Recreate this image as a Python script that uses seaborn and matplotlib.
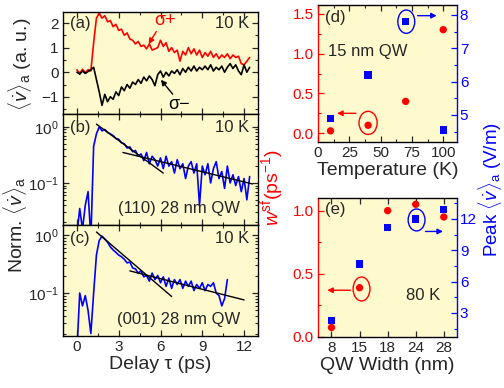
import numpy as np
import pandas as pd
import matplotlib
matplotlib.use("Agg")
import matplotlib.pyplot as plt
from matplotlib.patches import Ellipse
from matplotlib.ticker import MultipleLocator, FormatStrFormatter
import seaborn as sns

sns.set_style("ticks")
plt.rcParams['font.family'] = ['Liberation Sans', 'DejaVu Sans']
plt.rcParams['mathtext.fontset'] = 'custom'
plt.rcParams['mathtext.rm'] = 'Liberation Sans'
plt.rcParams['mathtext.it'] = 'Liberation Sans:italic'
plt.rcParams['mathtext.bf'] = 'Liberation Sans:bold'

# ---------------- data ----------------
t_step = 0.2  # ps sampling of the traces

sigma_plus = [0.1, -0.05, 0.12, -0.02, 0.1, 0.05, 1.2, 2.2, 2.4, 2.2, 2.3, 2.05, 2.1, 1.85,
              1.95, 1.7, 1.75, 1.5, 1.6, 1.35, 1.3, 1.15, 1.25, 1.05, 1.1, 0.95, 1.15, 0.9,
              0.95, 1.0, 1.3, 1.05, 1.2, 0.85, 1.0, 0.8, 0.9, 0.45, 0.85, 0.7, 1.0, 0.75, 0.95,
              0.7, 0.9, 0.6, 0.8, 0.65, 0.85, 0.6, 0.75, 0.55, 0.7, 0.6, 0.75, 0.55, 0.7, 0.6,
              0.65, 0.35, 0.3, 0.45, 0.6]
sigma_minus = [0.0, -0.08, 0.05, -0.05, 0.03, 0.1, 0.2, -0.3, -0.8, -1.35, -0.9, -1.2, -1.0,
               -1.1, -0.8, -0.95, -0.6, -0.75, -0.5, -0.65, -0.4, -0.5, -0.3, -0.45, -0.2,
               -0.35, -0.15, -0.3, -0.55, -0.1, 0.05, -0.2, 0.0, -0.15, 0.05, -0.05, 0.1,
               -0.1, 0.15, 0.0, 0.2, 0.05, 0.25, 0.05, 0.2, 0.1, 0.25, 0.1, 0.3, 0.05, 0.2,
               0.1, 0.25, 0.0, 0.2, 0.35, 0.15, 0.3, 0.05, -0.1, 0.3, 0.0, 0.2]

norm_110 = [0.012, 0.035, 0.015, 0.04, 0.07, 0.01, 0.45, 0.75, 1.0, 0.85, 0.9, 0.8, 0.75,
            0.7, 0.62, 0.6, 0.52, 0.5, 0.42, 0.44, 0.36, 0.38, 0.3, 0.33, 0.25, 0.35, 0.22,
            0.3, 0.26, 0.2, 0.28, 0.18, 0.3, 0.2, 0.24, 0.15, 0.26, 0.18, 0.22, 0.12, 0.2,
            0.24, 0.15, 0.22, 0.04, 0.2, 0.14, 0.22, 0.1, 0.18, 0.24, 0.12, 0.16, 0.08, 0.2,
            0.1, 0.14, 0.09, 0.13, 0.07, 0.12, 0.05, 0.13]
norm_001 = [0.01, 0.1, 0.06, 0.09, 0.05, 0.02, 0.1, 0.45, 0.8, 0.95, 0.85, 0.75, 0.62, 0.55,
            0.5, 0.45, 0.42, 0.38, 0.33, 0.34, 0.27, 0.26, 0.22, 0.24, 0.19, 0.2, 0.16, 0.22,
            0.17, 0.2, 0.15, 0.19, 0.13, 0.18, 0.12, 0.17, 0.14, 0.17, 0.12, 0.16, 0.13, 0.16,
            0.11, 0.14, 0.12, 0.15, 0.11, 0.14, 0.13, 0.15, 0.1, 0.09, 0.06, 0.08, 0.17]

fit110_fast_t = [1.4, 6.2]
fit110_fast_v = [1.12, 0.15]
fit110_slow_t = [3.3, 12.6]
fit110_slow_v = [0.35, 0.096]
fit001_fast_t = [1.4, 6.8]
fit001_fast_v = [1.12, 0.087]
fit001_slow_t = [3.8, 12.0]
fit001_slow_v = [0.24, 0.076]

temperature = [10, 40, 70, 100]
wsf_T = [0.03, 0.1, 0.4, 1.3]
peak_T = [4.9, 6.2, 7.8, 4.55]

qw_width = ['8', '15', '18', '24', '28']
wsf_W = [0.075, 0.39, 1.0, 1.05, 0.95]
peak_W = [2.3, 7.7, 11.2, 12.0, 12.9]

RED = '#FF0000'
BLUE = '#0000FF'
BG = '#FFFACD'
TICK = 11
LAB = 14
TXT = 12


def trace_df(vals):
    return pd.DataFrame({'t': np.round(np.arange(len(vals)) * t_step, 2), 'v': vals})


fig = plt.figure(figsize=(5.04, 3.88), dpi=100)
W, H = 504, 388


def rect(l, r, t, b):
    return [l / W, 1 - b / H, (r - l) / W, (b - t) / H]


ax_a = fig.add_axes(rect(63, 258, 12, 114))
ax_b = fig.add_axes(rect(63, 258, 114, 225))
ax_c = fig.add_axes(rect(63, 258, 225, 336))
ax_d = fig.add_axes(rect(318, 457, 5, 142))
ax_e = fig.add_axes(rect(318, 457, 198, 337))

for ax in (ax_a, ax_b, ax_c, ax_d, ax_e):
    ax.set_facecolor(BG)
    for s in ax.spines.values():
        s.set_linewidth(1.0)
        s.set_color('black')

# ---- (a) ----
sns.lineplot(data=trace_df(sigma_plus), x='t', y='v', ax=ax_a, color=RED, lw=1.2,
             estimator=None, sort=False)
sns.lineplot(data=trace_df(sigma_minus), x='t', y='v', ax=ax_a, color='black', lw=1.2,
             estimator=None, sort=False)
ax_a.set_ylim(-1.7, 2.45)
ax_a.yaxis.set_major_locator(MultipleLocator(1))
ax_a.yaxis.set_minor_locator(MultipleLocator(0.5))
ax_a.set_ylabel('')
ax_a.text(0.036, 0.89, '(a)', transform=ax_a.transAxes, fontsize=TXT, va='center')
ax_a.text(0.955, 0.89, '10 K', transform=ax_a.transAxes, fontsize=TXT, va='center', ha='right')
ax_a.text(6.3, 2.1, 'σ+', color=RED, fontsize=TXT + 1, ha='center', va='center')
ax_a.annotate('', xy=(5.05, 1.05), xytext=(5.8, 1.75),
              arrowprops=dict(arrowstyle='-|>', color=RED, lw=1.0, mutation_scale=8))
ax_a.text(7.3, -1.3, 'σ−', color='black', fontsize=TXT + 1, ha='center', va='center')
ax_a.annotate('', xy=(5.9, -0.22), xytext=(7.0, -0.98),
              arrowprops=dict(arrowstyle='-|>', color='black', lw=1.0, mutation_scale=8))
fig.text(20 / W, 1 - 64 / H, r'$\langle\dot{v}\rangle_{\rm a}$ (a. u.)', rotation=90,
         fontsize=LAB, ha='center', va='center')

# ---- (b), (c) ----
for ax, vals, ft, fv, st, sv, lab, tag in (
        (ax_b, norm_110, fit110_fast_t, fit110_fast_v, fit110_slow_t, fit110_slow_v,
         '(110) 28 nm QW', '(b)'),
        (ax_c, norm_001, fit001_fast_t, fit001_fast_v, fit001_slow_t, fit001_slow_v,
         '(001) 28 nm QW', '(c)')):
    sns.lineplot(data=trace_df(vals), x='t', y='v', ax=ax, color=BLUE, lw=1.2,
                 estimator=None, sort=False)
    sns.lineplot(x=ft, y=fv, ax=ax, color='black', lw=1.0, estimator=None, sort=False)
    sns.lineplot(x=st, y=sv, ax=ax, color='black', lw=1.0, estimator=None, sort=False)
    ax.set_yscale('log')
    ax.text(0.036, 0.875, tag, transform=ax.transAxes, fontsize=TXT, va='center')
    ax.text(0.955, 0.875, '10 K', transform=ax.transAxes, fontsize=TXT, va='center', ha='right')
    ax.text(0.91, 0.145, lab, transform=ax.transAxes, fontsize=TXT, va='center', ha='right')
    ax.set_ylabel('')
ax_b.set_ylim(10 ** -1.75, 10 ** 0.23)
ax_c.set_ylim(10 ** -1.74, 10 ** 0.17)

for ax in (ax_a, ax_b, ax_c):
    ax.set_xlim(-1, 13)
    ax.xaxis.set_major_locator(MultipleLocator(3))
    ax.xaxis.set_minor_locator(MultipleLocator(1.5))
    ax.tick_params(which='both', direction='in', top=True, right=True, labelsize=TICK, pad=3)
    ax.tick_params(which='major', length=4, width=0.9)
    ax.tick_params(which='minor', length=2.5, width=0.8)
    ax.set_xlabel('')
for ax in (ax_a, ax_b):
    ax.tick_params(labelbottom=False)
ax_c.set_xlabel('Delay τ (ps)', fontsize=LAB, labelpad=1)
fig.text(15 / W, 1 - 225 / H, r'Norm. $\langle\dot{v}\rangle_{\rm a}$', rotation=90,
         fontsize=LAB, ha='center', va='center')

# ---- (d) ----
sns.scatterplot(x=temperature, y=wsf_T, ax=ax_d, color=RED, marker='o', s=28,
                edgecolor='none', zorder=3)
ax_d2 = ax_d.twinx()
sns.scatterplot(x=temperature, y=peak_T, ax=ax_d2, color=BLUE, marker='s', s=28,
                edgecolor='none', zorder=3)
ax_d.set_xlim(0, 111)
ax_d.set_ylim(-0.11, 1.61)
ax_d2.set_ylim(4.19, 8.3)
ax_d.xaxis.set_major_locator(MultipleLocator(25))
ax_d.xaxis.set_minor_locator(MultipleLocator(12.5))
ax_d.yaxis.set_major_locator(MultipleLocator(0.5))
ax_d.yaxis.set_minor_locator(MultipleLocator(0.25))
ax_d2.yaxis.set_major_locator(MultipleLocator(1))
ax_d2.yaxis.set_minor_locator(MultipleLocator(0.5))
ax_d.set_xlabel('Temperature (K)', fontsize=LAB, labelpad=1)
ax_d.text(0.05, 0.91, '(d)', transform=ax_d.transAxes, fontsize=TXT, va='center')
ax_d.text(0.07, 0.66, '15 nm QW', transform=ax_d.transAxes, fontsize=TXT, va='center')
ax_d.add_patch(Ellipse((40, 0.13), 14.5, 0.29, fill=False, ec=RED, lw=1.0, zorder=4))
ax_d.annotate('', xy=(13, 0.25), xytext=(32.5, 0.25),
              arrowprops=dict(arrowstyle='-|>', color=RED, lw=1.0, mutation_scale=8))
ax_d2.add_patch(Ellipse((70.5, 7.8), 13.5, 0.7, fill=False, ec=BLUE, lw=1.0, zorder=4))
ax_d2.annotate('', xy=(97, 7.98), xytext=(77.3, 7.98),
               arrowprops=dict(arrowstyle='-|>', color=BLUE, lw=1.0, mutation_scale=8))

# ---- (e) ----
sns.scatterplot(x=qw_width, y=wsf_W, ax=ax_e, color=RED, marker='o', s=28,
                edgecolor='none', zorder=3)
ax_e2 = ax_e.twinx()
sns.scatterplot(x=qw_width, y=peak_W, ax=ax_e2, color=BLUE, marker='s', s=28,
                edgecolor='none', zorder=3)
ax_e.set_xlim(-0.48, 4.47)
ax_e.set_ylim(0, 1.1)
ax_e2.set_ylim(0.7, 14.0)
ax_e.yaxis.set_major_locator(MultipleLocator(0.5))
ax_e.yaxis.set_minor_locator(MultipleLocator(0.25))
ax_e2.yaxis.set_major_locator(MultipleLocator(3))
ax_e2.yaxis.set_minor_locator(MultipleLocator(1.5))
ax_e.set_xlabel('QW Width (nm)', fontsize=LAB, labelpad=1)
ax_e.text(0.05, 0.915, '(e)', transform=ax_e.transAxes, fontsize=TXT, va='center')
ax_e.text(0.63, 0.3, '80 K', transform=ax_e.transAxes, fontsize=TXT, va='center')
ax_e.add_patch(Ellipse((1.07, 0.38), 0.6, 0.19, fill=False, ec=RED, lw=1.0, zorder=4))
ax_e.annotate('', xy=(-0.25, 0.37), xytext=(0.77, 0.37),
              arrowprops=dict(arrowstyle='-|>', color=RED, lw=1.0, mutation_scale=8))
ax_e2.add_patch(Ellipse((3.03, 11.9), 0.6, 2.1, fill=False, ec=BLUE, lw=1.0, zorder=4))
ax_e2.annotate('', xy=(4.07, 10.8), xytext=(3.25, 10.8),
               arrowprops=dict(arrowstyle='-|>', color=BLUE, lw=1.0, mutation_scale=8))

for ax, ax2 in ((ax_d, ax_d2), (ax_e, ax_e2)):
    ax.spines['left'].set_color(RED)
    ax.spines['right'].set_visible(False)
    ax2.spines['left'].set_visible(False)
    ax2.spines['right'].set_color(BLUE)
    ax2.spines['right'].set_linewidth(1.0)
    ax2.spines['top'].set_visible(False)
    ax2.spines['bottom'].set_visible(False)
    ax.tick_params(which='both', direction='in', top=True, labelsize=TICK, pad=3)
    ax.tick_params(axis='y', which='both', colors=RED, labelcolor=RED)
    ax2.tick_params(which='both', direction='in', labelsize=TICK, pad=2,
                    colors=BLUE, labelcolor=BLUE)
    for a in (ax, ax2):
        a.tick_params(which='major', length=4, width=0.9)
        a.tick_params(which='minor', length=2.5, width=0.8)
        a.set_ylabel('')
    ax.yaxis.set_major_formatter(FormatStrFormatter('%.1f'))

fig.text(272 / W, 1 - 188 / H, r'$w^{\rm sf}$(ps$^{-1}$)', rotation=90, color=RED,
         fontsize=LAB, ha='center', va='center')
fig.text(490 / W, 1 - 190 / H, r'Peak $\langle\dot{v}\rangle_{\rm a}$ (V/m)', rotation=90,
         color=BLUE, fontsize=13.5, ha='center', va='center')

fig.savefig('out.png', dpi=100, facecolor='white')
